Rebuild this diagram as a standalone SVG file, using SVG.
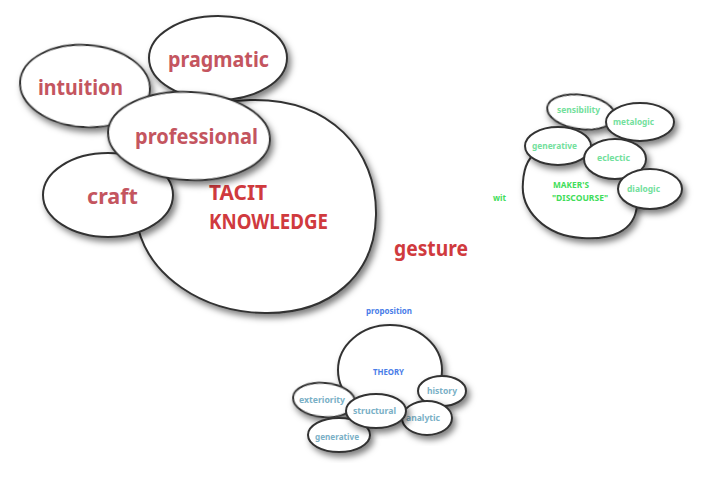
<svg xmlns="http://www.w3.org/2000/svg" width="701" height="479" viewBox="0 0 701 479">
<defs>
<filter id="sh" x="-20%" y="-20%" width="150%" height="150%">
<feDropShadow dx="3" dy="4" stdDeviation="3" flood-color="#000" flood-opacity="0.5"/>
</filter>
</defs>
<style>
.b{fill:#fff;stroke:#333;stroke-width:2;filter:url(#sh)}
text{font-family:"Noto Sans","Open Sans","DejaVu Sans",sans-serif;font-weight:bold}
.r{fill:#c4555f}
.rr{fill:#d03a3e}
.g{fill:#72e09c;font-size:9px}
.gg{fill:#3fdd5a;font-size:9px}
.bl{fill:#4a7de8;font-size:9px}
.lb{fill:#7ab0c6;font-size:9px}
</style>
<rect width="701" height="479" fill="#fff"/>
<g id="connectors"></g>
<g id="tacit">
<path class="b" d="M250,100 C330,98 377,150 376,215 C375,275 330,314 265,313 C200,312 150,275 138,228 C125,175 160,102 250,100 Z"/>
<text class="rr" x="209" y="200" font-size="22" textLength="58" lengthAdjust="spacingAndGlyphs">TACIT</text>
<text class="rr" x="209" y="229" font-size="22" textLength="119" lengthAdjust="spacingAndGlyphs">KNOWLEDGE</text>
</g>
<g id="intuition">
<ellipse class="b" cx="85" cy="86" rx="65" ry="41" transform="rotate(4 85 86)"/>
<text class="r" x="38" y="95" font-size="22" textLength="85" lengthAdjust="spacingAndGlyphs">intuition</text>
</g>
<g id="pragmatic">
<ellipse class="b" cx="218" cy="58" rx="69" ry="42"/>
<text class="r" x="168" y="67" font-size="22" textLength="101" lengthAdjust="spacingAndGlyphs">pragmatic</text>
</g>
<g id="craft">
<ellipse class="b" cx="108" cy="195" rx="65" ry="42"/>
<text class="r" x="87" y="204" font-size="22" textLength="51" lengthAdjust="spacingAndGlyphs">craft</text>
</g>
<g id="professional">
<ellipse class="b" cx="189" cy="136" rx="81" ry="44" transform="rotate(3 189 136)"/>
<text class="r" x="135" y="144" font-size="22" textLength="123" lengthAdjust="spacingAndGlyphs">professional</text>
</g>
<g id="gesture">
<text class="rr" x="394" y="256" font-size="21" textLength="74" lengthAdjust="spacingAndGlyphs">gesture</text>
</g>
<g id="wit">
<text class="gg" x="493" y="201" textLength="13" lengthAdjust="spacingAndGlyphs">wit</text>
</g>
<g id="makers">
<path class="b" d="M540,150 C590,140 640,160 637,205 C635,232 610,240 582,238 C545,236 520,210 523,182 C524,165 530,155 540,150 Z"/>
<text class="gg" x="553" y="188" textLength="36" lengthAdjust="spacingAndGlyphs">MAKER'S</text>
<text class="gg" x="552" y="201" textLength="56" lengthAdjust="spacingAndGlyphs">"DISCOURSE"</text>
</g>
<g id="sensibility">
<ellipse class="b" cx="581" cy="112" rx="34" ry="17" transform="rotate(8 581 112)"/>
<text class="g" x="557" y="113" textLength="43" lengthAdjust="spacingAndGlyphs">sensibility</text>
</g>
<g id="metalogic">
<ellipse class="b" cx="640" cy="122" rx="34" ry="19"/>
<text class="g" x="613" y="125" textLength="41" lengthAdjust="spacingAndGlyphs">metalogic</text>
</g>
<g id="generative1">
<ellipse class="b" cx="558" cy="146" rx="33" ry="19"/>
<text class="g" x="532" y="149" textLength="45" lengthAdjust="spacingAndGlyphs">generative</text>
</g>
<g id="eclectic">
<ellipse class="b" cx="615" cy="159" rx="31" ry="20"/>
<text class="g" x="597" y="161" textLength="33" lengthAdjust="spacingAndGlyphs">eclectic</text>
</g>
<g id="dialogic">
<ellipse class="b" cx="650" cy="189" rx="32" ry="20"/>
<text class="g" x="627" y="192" textLength="33" lengthAdjust="spacingAndGlyphs">dialogic</text>
</g>
<g id="proposition">
<text class="bl" x="366" y="314" textLength="46" lengthAdjust="spacingAndGlyphs">proposition</text>
</g>
<g id="theory">
<ellipse class="b" cx="390" cy="370" rx="52" ry="45"/>
<text class="bl" x="373" y="375" textLength="31" lengthAdjust="spacingAndGlyphs">THEORY</text>
</g>
<g id="history">
<ellipse class="b" cx="442" cy="391" rx="24" ry="15"/>
<text class="lb" x="427" y="394" textLength="30" lengthAdjust="spacingAndGlyphs">history</text>
</g>
<g id="analytic">
<ellipse class="b" cx="427" cy="418" rx="25" ry="17"/>
<text class="lb" x="406" y="421" textLength="34" lengthAdjust="spacingAndGlyphs">analytic</text>
</g>
<g id="exteriority">
<ellipse class="b" cx="324" cy="400" rx="31" ry="17" transform="rotate(5 324 400)"/>
<text class="lb" x="299" y="403" textLength="46" lengthAdjust="spacingAndGlyphs">exteriority</text>
</g>
<g id="generative2">
<ellipse class="b" cx="339" cy="435" rx="31" ry="17"/>
<text class="lb" x="315" y="440" textLength="44" lengthAdjust="spacingAndGlyphs">generative</text>
</g>
<g id="structural">
<ellipse class="b" cx="376" cy="411" rx="30" ry="17"/>
<text class="lb" x="353" y="414" textLength="43" lengthAdjust="spacingAndGlyphs">structural</text>
</g>
</svg>
